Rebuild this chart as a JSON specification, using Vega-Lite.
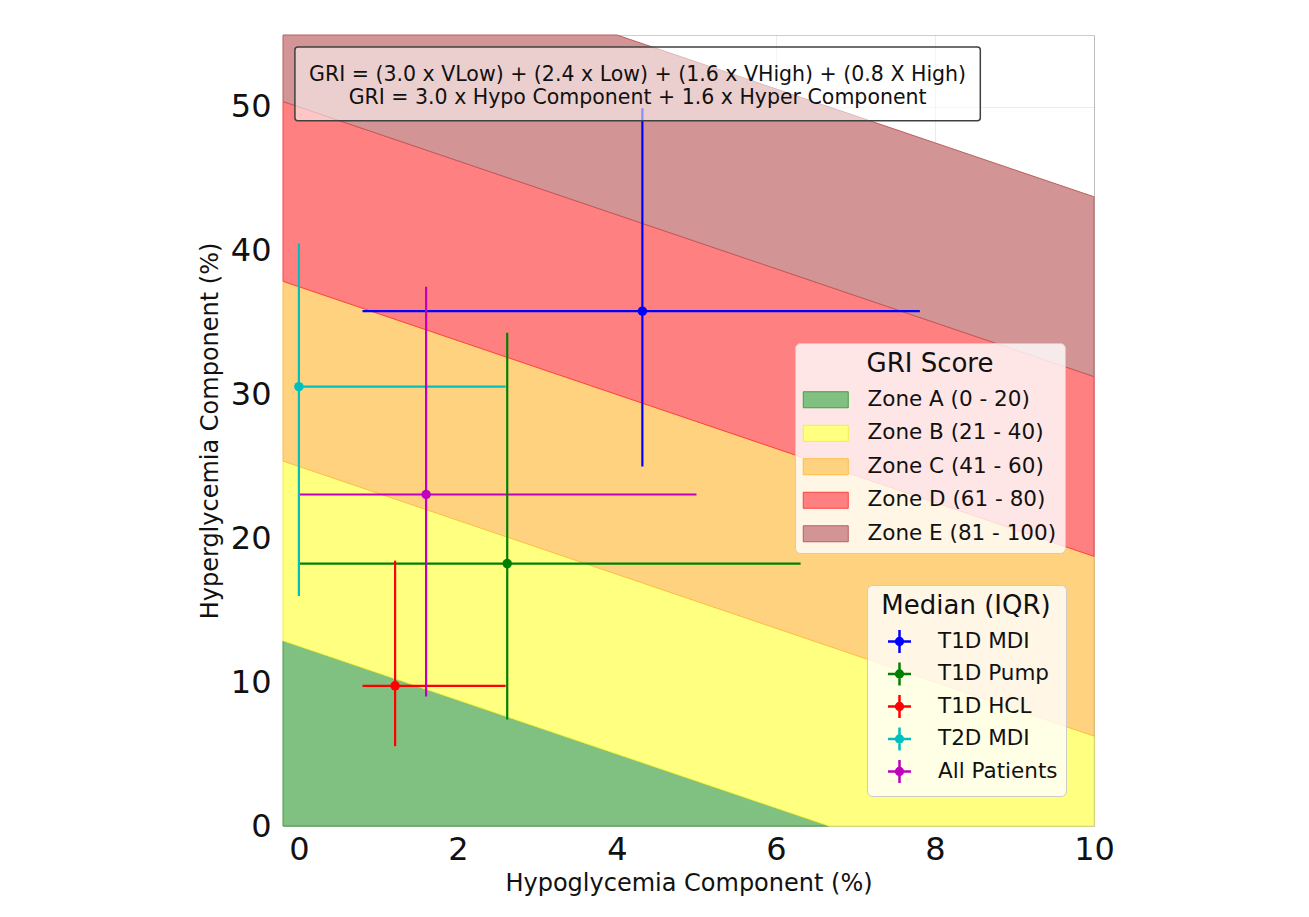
{
  "$schema": "https://vega.github.io/schema/vega-lite/v6.json",
  "width": 811,
  "height": 791,
  "autosize": {"type": "none"},
  "padding": {"left": 283, "top": 35, "right": 215, "bottom": 91},
  "background": "white",
  "config": {
    "font": "DejaVu Sans",
    "view": {"stroke": "#cccccc", "strokeWidth": 1},
    "axis": {
      "ticks": false,
      "domain": false,
      "grid": true,
      "gridColor": "#000000",
      "gridOpacity": 0.08,
      "labelFontSize": 32,
      "labelColor": "#111111",
      "titleFontSize": 24,
      "titleFontWeight": "normal",
      "titleColor": "#111111",
      "labelFlush": false,
      "zindex": 1
    }
  },
  "datasets": {
    "zones": [
      {"zone": "Zone A (0 - 20)", "x": -0.2, "lo": 0, "hi": 12.875},
      {"zone": "Zone A (0 - 20)", "x": 6.667, "lo": 0, "hi": 0},
      {"zone": "Zone B (21 - 40)", "x": -0.2, "lo": 12.875, "hi": 25.375},
      {"zone": "Zone B (21 - 40)", "x": 6.667, "lo": 0, "hi": 18.75},
      {"zone": "Zone B (21 - 40)", "x": 10, "lo": 0, "hi": 6.25},
      {"zone": "Zone C (41 - 60)", "x": -0.2, "lo": 25.375, "hi": 37.875},
      {"zone": "Zone C (41 - 60)", "x": 10, "lo": 6.25, "hi": 18.75},
      {"zone": "Zone D (61 - 80)", "x": -0.2, "lo": 37.875, "hi": 50.375},
      {"zone": "Zone D (61 - 80)", "x": 10, "lo": 18.75, "hi": 31.25},
      {"zone": "Zone E (81 - 100)", "x": -0.2, "lo": 50.375, "hi": 55},
      {"zone": "Zone E (81 - 100)", "x": 4, "lo": 42.5, "hi": 55},
      {"zone": "Zone E (81 - 100)", "x": 10, "lo": 31.25, "hi": 43.75}
    ],
    "groups": [
      {"group": "T1D MDI", "x": 4.32, "y": 35.8, "xlo": 0.8, "xhi": 7.81, "ylo": 25.0, "yhi": 49.9},
      {"group": "T1D Pump", "x": 2.62, "y": 18.25, "xlo": 0.0, "xhi": 6.31, "ylo": 7.4, "yhi": 34.3},
      {"group": "T1D HCL", "x": 1.21, "y": 9.75, "xlo": 0.8, "xhi": 2.6, "ylo": 5.55, "yhi": 18.45},
      {"group": "T2D MDI", "x": 0.0, "y": 30.55, "xlo": 0.0, "xhi": 2.6, "ylo": 16.0, "yhi": 40.5},
      {"group": "All Patients", "x": 1.6, "y": 23.05, "xlo": 0.0, "xhi": 5.0, "ylo": 9.0, "yhi": 37.5}
    ],
    "note": [{"line1": "GRI = (3.0 x VLow) + (2.4 x Low) + (1.6 x VHigh) + (0.8 X High)", "line2": "GRI = 3.0 x Hypo Component + 1.6 x Hyper Component"}]
  },
  "layer": [
    {
      "data": {"name": "zones"},
      "mark": {"type": "area", "strokeWidth": 1, "fillOpacity": 1, "strokeOpacity": 1},
      "encoding": {
        "x": {
          "field": "x", "type": "quantitative",
          "scale": {"domain": [-0.2, 10], "nice": false, "zero": false},
          "axis": {"title": "Hypoglycemia Component (%)", "values": [0, 2, 4, 6, 8, 10], "format": "d", "labelPadding": 8, "titlePadding": 6}
        },
        "y": {
          "field": "lo", "type": "quantitative",
          "scale": {"domain": [0, 55], "nice": false, "zero": false},
          "axis": {"title": "Hyperglycemia Component (%)", "values": [0, 10, 20, 30, 40, 50], "format": "d", "labelPadding": 12, "titlePadding": 8}
        },
        "y2": {"field": "hi"},
        "fill": {
          "field": "zone", "type": "nominal",
          "scale": {
            "domain": ["Zone A (0 - 20)", "Zone B (21 - 40)", "Zone C (41 - 60)", "Zone D (61 - 80)", "Zone E (81 - 100)"],
            "range": ["#80c080", "#ffff80", "#ffd280", "#ff8080", "#d29494"]
          },
          "legend": {
            "title": "GRI Score",
            "orient": "none", "legendX": 512, "legendY": 308,
            "titleFontSize": 26, "titleFontWeight": "normal", "titleColor": "#111111", "titleAnchor": "middle", "titlePadding": 12,
            "labelFontSize": 21.5, "labelColor": "#111111", "labelLimit": 400,
            "symbolType": "M-2.25,-0.8H2.25V0.8H-2.25Z", "symbolSize": 400, "symbolStrokeWidth": 1,
            "symbolOffset": 12, "labelOffset": 31, "rowPadding": 10.5,
            "fillColor": "rgba(255,255,255,0.8)", "strokeColor": "#cccccc", "cornerRadius": 5, "padding": 8
          }
        },
        "stroke": {
          "field": "zone", "type": "nominal",
          "scale": {
            "domain": ["Zone A (0 - 20)", "Zone B (21 - 40)", "Zone C (41 - 60)", "Zone D (61 - 80)", "Zone E (81 - 100)"],
            "range": ["#40a040", "#f0f040", "#ffbc40", "#ff4040", "#bb5f5f"]
          },
          "legend": {
            "title": "GRI Score",
            "orient": "none", "legendX": 512, "legendY": 308,
            "titleFontSize": 26, "titleFontWeight": "normal", "titleColor": "#111111", "titleAnchor": "middle", "titlePadding": 12,
            "labelFontSize": 21.5, "labelColor": "#111111", "labelLimit": 400,
            "symbolType": "M-2.25,-0.8H2.25V0.8H-2.25Z", "symbolSize": 400, "symbolStrokeWidth": 1,
            "symbolOffset": 12, "labelOffset": 31, "rowPadding": 10.5,
            "fillColor": "rgba(255,255,255,0.8)", "strokeColor": "#cccccc", "cornerRadius": 5, "padding": 8
          }
        }
      }
    },
    {
      "data": {"name": "groups"},
      "mark": {"type": "rule", "strokeWidth": 2.2},
      "encoding": {
        "x": {"field": "xlo", "type": "quantitative"},
        "x2": {"field": "xhi"},
        "y": {"field": "y", "type": "quantitative"},
        "color": {
          "field": "group", "type": "nominal",
          "scale": {
            "domain": ["T1D MDI", "T1D Pump", "T1D HCL", "T2D MDI", "All Patients"],
            "range": ["#0000ff", "#008000", "#ff0000", "#00bfbf", "#bf00bf"]
          },
          "legend": {
            "title": "Median (IQR)",
            "orient": "none", "legendX": 584, "legendY": 550,
            "titleFontSize": 26, "titleFontWeight": "normal", "titleColor": "#111111", "titleAnchor": "middle", "titlePadding": 11,
            "labelFontSize": 21.5, "labelColor": "#111111", "labelLimit": 400,
            "symbolType": "M-1.15,0H1.15M0,-1.15V1.15M0.34,0A0.34,0.34,0,1,1,-0.34,0A0.34,0.34,0,1,1,0.34,0M0.12,0A0.12,0.12,0,1,1,-0.12,0A0.12,0.12,0,1,1,0.12,0",
            "symbolSize": 400, "symbolStrokeWidth": 2.5,
            "symbolOffset": 13, "labelOffset": 27, "rowPadding": -0.5,
            "fillColor": "rgba(255,255,255,0.8)", "strokeColor": "#cccccc", "cornerRadius": 5, "padding": 8
          }
        }
      }
    },
    {
      "data": {"name": "groups"},
      "mark": {"type": "rule", "strokeWidth": 2.2},
      "encoding": {
        "x": {"field": "x", "type": "quantitative"},
        "y": {"field": "ylo", "type": "quantitative"},
        "y2": {"field": "yhi"},
        "color": {"field": "group", "type": "nominal"}
      }
    },
    {
      "data": {"name": "groups"},
      "mark": {"type": "point", "filled": true, "shape": "circle", "size": 90, "opacity": 1},
      "encoding": {
        "x": {"field": "x", "type": "quantitative"},
        "y": {"field": "y", "type": "quantitative"},
        "color": {"field": "group", "type": "nominal", "legend": null}
      }
    },
    {
      "data": {"name": "note"},
      "mark": {"type": "rect", "fill": "white", "fillOpacity": 0.55, "stroke": "#404040", "strokeWidth": 1.5, "cornerRadius": 3},
      "encoding": {
        "x": {"datum": -0.05, "type": "quantitative"},
        "x2": {"datum": 8.57},
        "y": {"datum": 54.17, "type": "quantitative"},
        "y2": {"datum": 49.03}
      }
    },
    {
      "data": {"name": "note"},
      "mark": {"type": "text", "fontSize": 20.5, "align": "center", "baseline": "middle", "dy": -11, "color": "#111111"},
      "encoding": {
        "x": {"datum": 4.26, "type": "quantitative"},
        "y": {"datum": 51.45, "type": "quantitative"},
        "text": {"field": "line1"}
      }
    },
    {
      "data": {"name": "note"},
      "mark": {"type": "text", "fontSize": 20.5, "align": "center", "baseline": "middle", "dy": 12, "color": "#111111"},
      "encoding": {
        "x": {"datum": 4.26, "type": "quantitative"},
        "y": {"datum": 51.45, "type": "quantitative"},
        "text": {"field": "line2"}
      }
    }
  ]
}
